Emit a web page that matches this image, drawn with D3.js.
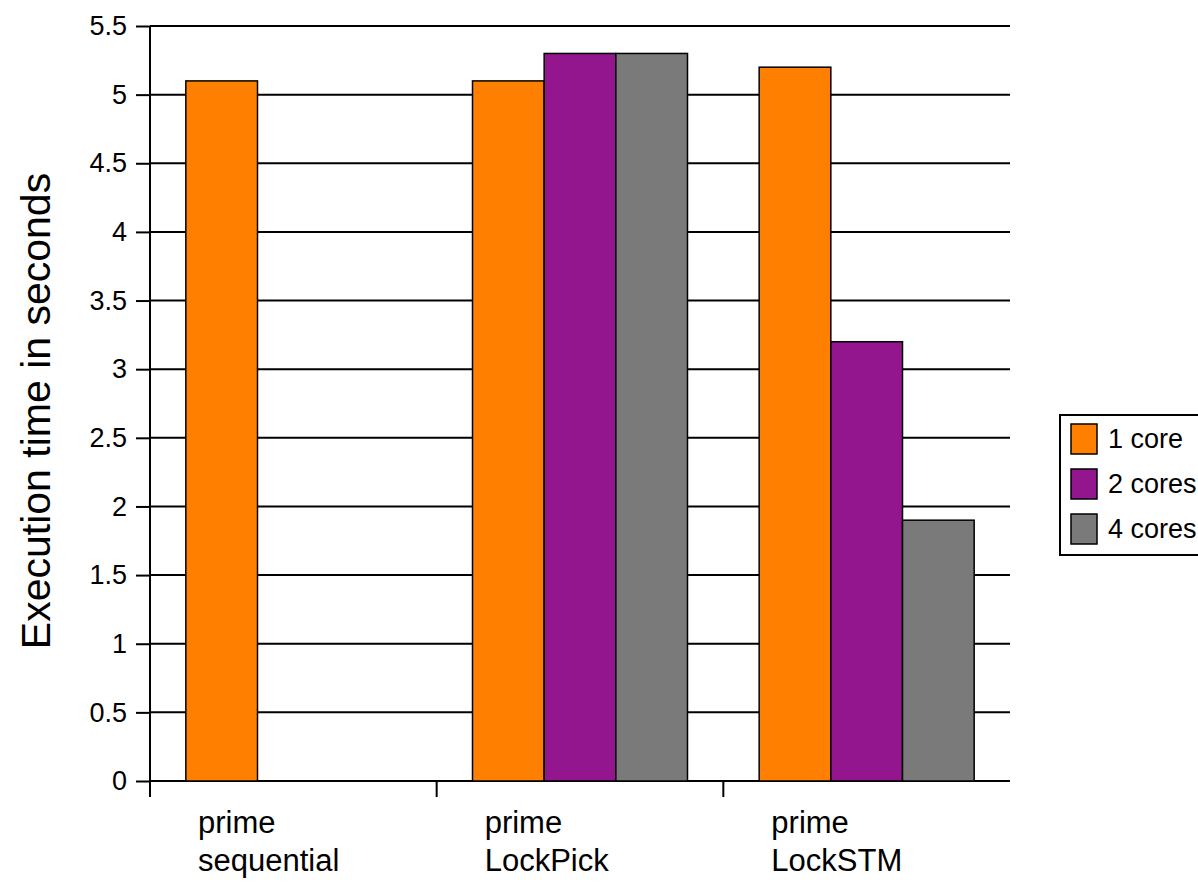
<!DOCTYPE html>
<html>
<head>
<meta charset="utf-8">
<script src="https://cdn.jsdelivr.net/npm/d3@7"></script>
<style>
body { margin: 0; background: #fff; }
text { font-family: "Liberation Sans", Arial, sans-serif; fill: #000; }
</style>
</head>
<body>
<script>
var categories = [["prime", "sequential"], ["prime", "LockPick"], ["prime", "LockSTM"]];
var seriesNames = ["1 core", "2 cores", "4 cores"];
var seriesColors = ["#ff8000", "#93168f", "#7a7a7a"];
var oneCore = [5.1, 5.1, 5.2];
var twoCores = [null, 5.3, 3.2];
var fourCores = [null, 5.3, 1.9];
var yTicks = [0, 0.5, 1, 1.5, 2, 2.5, 3, 3.5, 4, 4.5, 5, 5.5];

var w = 1198, h = 883;
var margin = {left: 150, top: 26, right: 188, bottom: 102};

var svg = d3.select("body").append("svg")
    .attr("width", w)
    .attr("height", h);

var x = d3.scaleBand()
    .domain(d3.range(categories.length))
    .range([margin.left, w - margin.right]);

var xInner = d3.scaleBand()
    .domain(d3.range(seriesNames.length))
    .range([0, x.bandwidth()])
    .paddingOuter(0.5);

var y = d3.scaleLinear()
    .domain([0, 5.5])
    .range([h - margin.bottom, margin.top]);

// gridlines
svg.append("g")
    .selectAll("line")
    .data(yTicks)
    .enter()
    .append("line")
    .attr("x1", margin.left)
    .attr("x2", w - margin.right)
    .attr("y1", function(d){ return y(d); })
    .attr("y2", function(d){ return y(d); })
    .attr("stroke", "#000")
    .attr("stroke-width", 2);

// bars
var series = [oneCore, twoCores, fourCores];
var bars = [];
series.forEach(function(vals, s){
    vals.forEach(function(v, c){
        if(v != null) bars.push({s: s, c: c, v: v});
    });
});

svg.append("g")
    .selectAll("rect")
    .data(bars)
    .enter()
    .append("rect")
    .attr("x", function(d){ return x(d.c) + xInner(d.s); })
    .attr("y", function(d){ return y(d.v); })
    .attr("width", xInner.bandwidth())
    .attr("height", function(d){ return y(0) - y(d.v); })
    .attr("fill", function(d){ return seriesColors[d.s]; })
    .attr("stroke", "#000")
    .attr("stroke-width", 1.5);

// y axis
var yAxis = svg.append("g")
    .attr("transform", "translate(" + margin.left + ",0)")
    .call(d3.axisLeft(y).tickValues(yTicks).tickSize(14).tickPadding(9).tickFormat(d3.format("")));
yAxis.selectAll("line, path").attr("stroke", "#000").attr("stroke-width", 2);
yAxis.select(".domain").attr("d", "M0," + y(5.5) + "V" + (y(0) + 16));
yAxis.selectAll("text").style("font-size", "27px").attr("fill", "#000");

// x axis ticks
svg.append("g")
    .selectAll("line")
    .data(d3.range(categories.length))
    .enter()
    .append("line")
    .attr("x1", function(d){ return x(d); })
    .attr("x2", function(d){ return x(d); })
    .attr("y1", y(0))
    .attr("y2", y(0) + 16)
    .attr("stroke", "#000")
    .attr("stroke-width", 2);

// category labels
var labels = svg.append("g")
    .selectAll("text")
    .data(categories)
    .enter()
    .append("text")
    .attr("y", y(0) + 52)
    .style("font-size", "31px");

labels.selectAll("tspan")
    .data(function(d){ return d; })
    .enter()
    .append("tspan")
    .attr("x", function(){ var i = categories.indexOf(d3.select(this.parentNode).datum()); return x(i) + 48; })
    .attr("dy", function(d, i){ return i == 0 ? 0 : 38; })
    .text(function(d){ return d; });

// y title
svg.append("text")
    .attr("transform", "translate(50,411) rotate(-90)")
    .attr("text-anchor", "middle")
    .style("font-size", "41px")
    .text("Execution time in seconds");

// legend
var legend = svg.append("g").attr("transform", "translate(1060,415)");
legend.append("rect")
    .attr("width", 150)
    .attr("height", 140)
    .attr("fill", "#fff")
    .attr("stroke", "#000")
    .attr("stroke-width", 2);

var items = legend.selectAll("g.item")
    .data(seriesNames)
    .enter()
    .append("g")
    .attr("class", "item")
    .attr("transform", function(d, i){ return "translate(0," + (i * 45) + ")"; });

items.append("rect")
    .attr("x", 11)
    .attr("y", 9)
    .attr("width", 26)
    .attr("height", 30)
    .attr("fill", function(d, i){ return seriesColors[i]; })
    .attr("stroke", "#000")
    .attr("stroke-width", 1.5);

items.append("text")
    .attr("x", 48)
    .attr("y", 33)
    .style("font-size", "27px")
    .text(function(d){ return d; });
</script>
</body>
</html>
